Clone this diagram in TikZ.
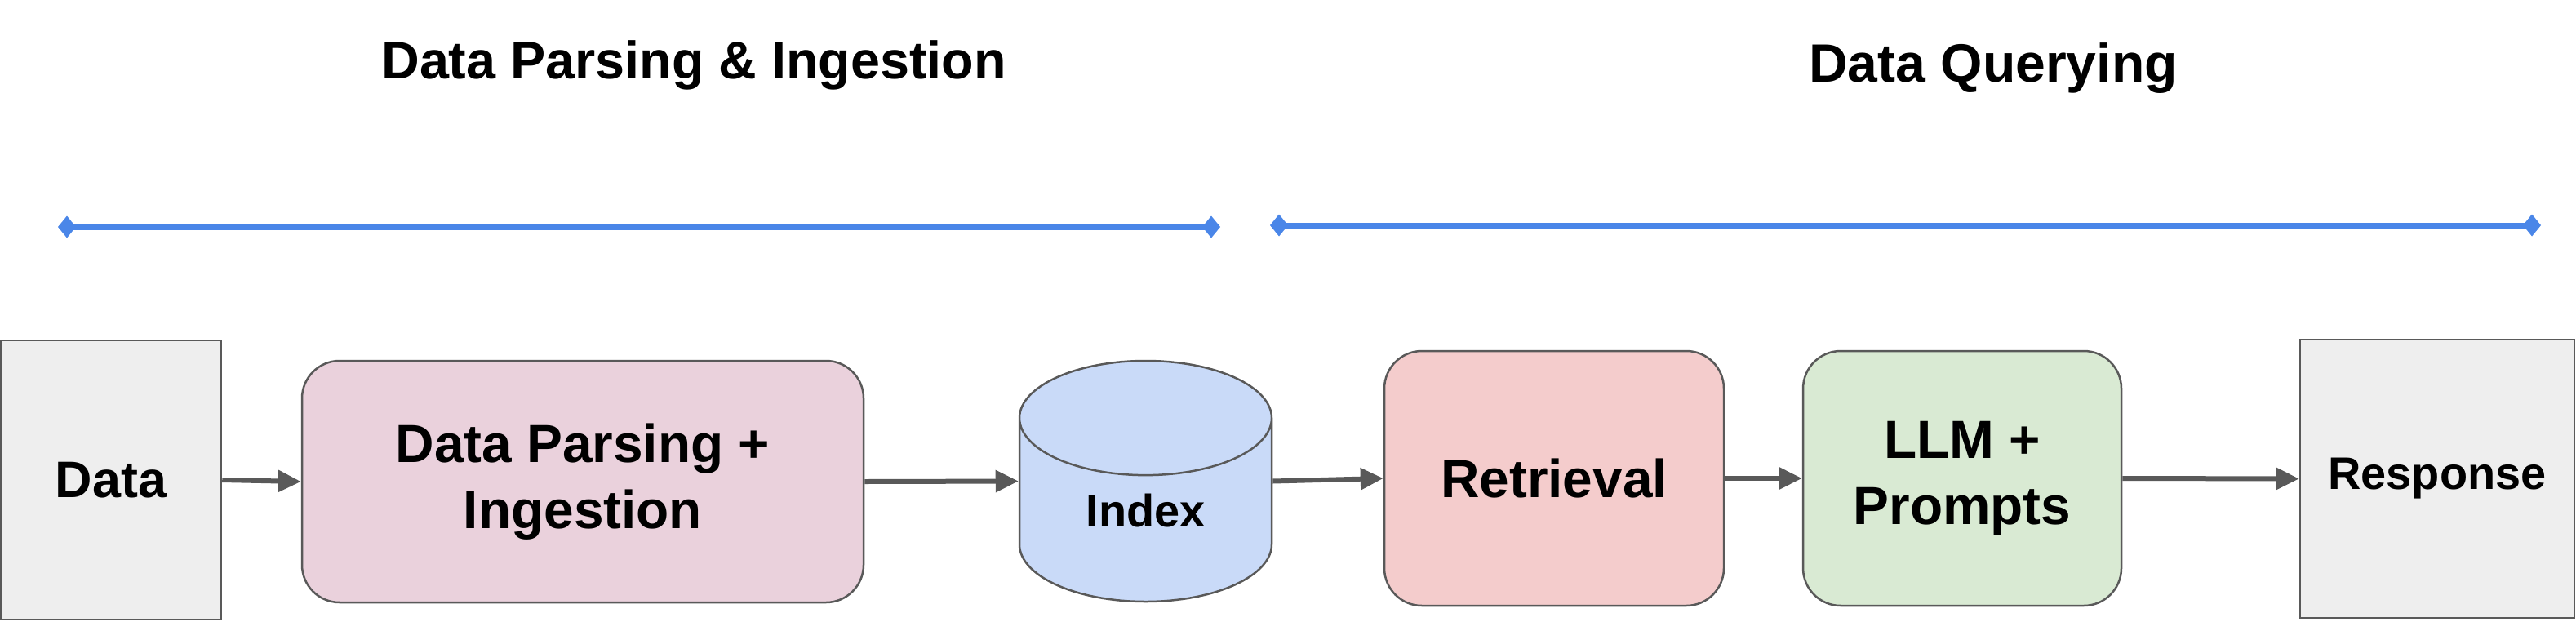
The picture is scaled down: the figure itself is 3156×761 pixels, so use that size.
\documentclass[tikz,border=0pt]{standalone}
\usepackage{fontspec}
\setmainfont{Liberation Sans}
\usetikzlibrary{arrows.meta,shapes.geometric}
\definecolor{edgegray}{HTML}{595959}
\definecolor{boxgray}{HTML}{EEEEEE}
\definecolor{parsepink}{HTML}{EAD1DC}
\definecolor{idxblue}{HTML}{C9DAF8}
\definecolor{retrred}{HTML}{F4CCCC}
\definecolor{llmgreen}{HTML}{D9EAD3}
\definecolor{spanblue}{HTML}{4A86E8}

\begin{document}
\begin{tikzpicture}[x=0.1mm,y=-0.1mm,
  box/.style={draw=edgegray,line width=0.25mm,align=center,inner sep=0pt,
    font=\bfseries\fontsize{18.7}{23}\selectfont},
  rbox/.style={box,rounded corners=4.6mm},
  flow/.style={draw=edgegray,line width=0.6mm,-{Triangle[length=2.8mm,width=2.6mm]}},
  span/.style={draw=spanblue,line width=0.7mm,
    {Diamond[length=2.2mm,width=2.7mm]}-{Diamond[length=2.2mm,width=2.7mm]}},
  heading/.style={anchor=base,font=\bfseries\fontsize{18.4}{22}\selectfont}]
  \useasboundingbox (0,0) rectangle (3156,761);

  % headings and spans
  \node[heading] (hparse) at (850,96) {Data Parsing \& Ingestion};
  \node[heading,font=\bfseries\fontsize{18.8}{22}\selectfont] (hquery)
    at (2442,100) {Data Querying};
  \coordinate (s1a) at (71,278);
  \coordinate (s1b) at (1495,278);
  \coordinate (s2a) at (1556,276);
  \coordinate (s2b) at (3113,276);
  \draw[span] (s1a) -- (s1b);
  \draw[span] (s2a) -- (s2b);

  % pipeline
  \node[box,fill=boxgray,minimum width=27mm,minimum height=34.2mm,
    font=\bfseries\fontsize{17.9}{21}\selectfont] (data) at (136,588) {Data};
  \node[rbox,fill=parsepink,minimum width=68.8mm,minimum height=29.6mm] (parse)
    at (714,590) {Data Parsing +\\Ingestion};
  \node[box,cylinder,shape border rotate=90,aspect=0.96,fill=idxblue,
    minimum width=30.9mm,minimum height=29.5mm,anchor=shape center,
    font=\bfseries\fontsize{15.9}{19}\selectfont] (idx) at (1403.5,589.5) {Index};
  \node[rbox,fill=retrred,minimum width=41.6mm,minimum height=31.2mm] (retr)
    at (1904,586) {Retrieval};
  \node[rbox,fill=llmgreen,minimum width=39mm,minimum height=31.2mm] (llm)
    at (2404,586) {LLM +\\Prompts};
  \node[box,fill=boxgray,minimum width=33.6mm,minimum height=34.1mm,
    font=\bfseries\fontsize{15.9}{19}\selectfont] (resp) at (2986,586.5) {Response};

  \draw[flow] (data.east) -- (parse.west);
  \draw[flow] (parse.east) -- (idx.shape center -| idx.west);
  \draw[flow] (idx.shape center -| idx.east) -- (retr.west);
  \draw[flow] (retr.east) -- (llm.west);
  \draw[flow] (llm.east) -- (resp.west);
\end{tikzpicture}
\end{document}
